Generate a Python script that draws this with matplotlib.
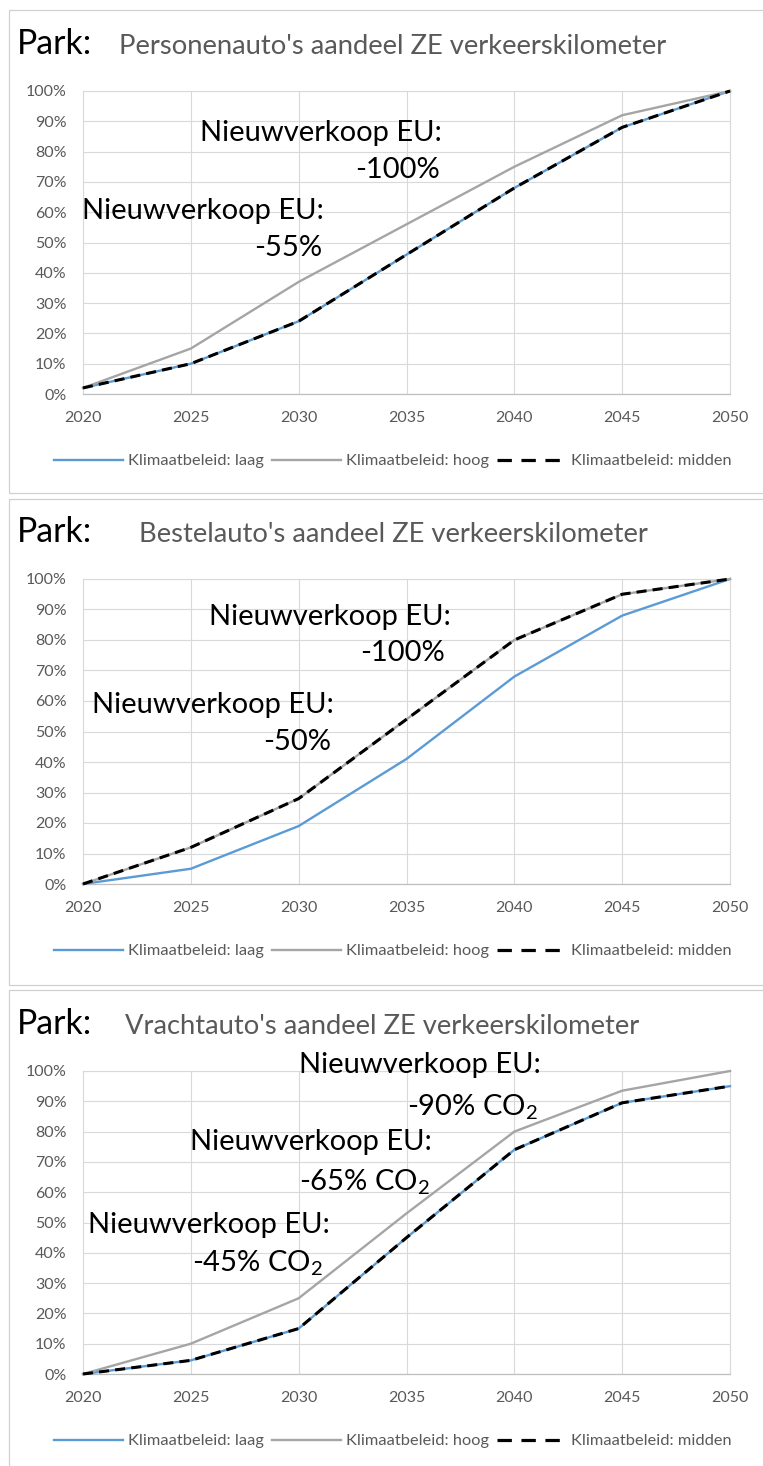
#!/usr/bin/env python
# -*- coding: utf-8 -*-
"""Park: aandeel ZE verkeerskilometer, three stacked panels"""

import matplotlib
matplotlib.use("Agg")
import matplotlib.pyplot as plt
from matplotlib.lines import Line2D

plt.rcParams['font.family'] = ['Lato', 'DejaVu Sans']
plt.rcParams['mathtext.fontset'] = 'custom'
plt.rcParams['mathtext.rm'] = 'Lato'
plt.rcParams['mathtext.it'] = 'Lato:italic'

# data (share of zero-emission vehicle kilometres, %)
years = [2020, 2025, 2030, 2035, 2040, 2045, 2050]

pa_laag = [2, 10, 24, 46, 68, 88, 100]
pa_hoog = [2, 15, 37, 56, 75, 92, 100]
pa_midden = [2, 10, 24, 46, 68, 88, 100]

be_laag = [0, 5, 19, 41, 68, 88, 100]
be_hoog = [0, 12, 28, 54, 80, 95, 100]
be_midden = [0, 12, 28, 54, 80, 95, 100]

vr_laag = [0, 4.5, 15, 45, 74, 89.5, 95]
vr_hoog = [0, 10, 25, 53, 80, 93.5, 100]
vr_midden = [0, 4.5, 15, 45, 74, 89.5, 95]

series_labels = ['Klimaatbeleid: laag', 'Klimaatbeleid: hoog',
                 'Klimaatbeleid: midden']
titles = ["Personenauto's aandeel ZE verkeerskilometer",
          "Bestelauto's aandeel ZE verkeerskilometer",
          "Vrachtauto's aandeel ZE verkeerskilometer"]

W, H = 763, 1466
X0, X1 = 83, 730          # pixel x of 2020 and 2050

BLUE, GREY = '#5b9bd5', '#a5a5a5'


def fx(x):
    return x / W


def fy(y):
    return 1 - y / H


def draw_panel(fig, box, top, bottom, title, title_x, values, notes):
    """box: (top, bottom) of the frame, top/bottom: pixel y of 100% / 0%"""
    # frame around the panel (left, top and bottom edges only)
    ftop, fbot = box
    frame = Line2D([fx(W + 5), fx(9), fx(9), fx(W + 5)],
                   [fy(ftop), fy(ftop), fy(fbot), fy(fbot)],
                   transform=fig.transFigure, color='#d0d0d0', lw=0.9)
    fig.add_artist(frame)

    ax = fig.add_axes([fx(X0), fy(bottom), (X1 - X0) / W, (bottom - top) / H])
    laag, hoog, midden = values
    ax.plot(years, laag, color=BLUE, lw=1.7, clip_on=False, zorder=3)
    ax.plot(years, hoog, color=GREY, lw=1.7, clip_on=False, zorder=3)
    ax.plot(years, midden, color='black', lw=2.2, ls=(0, (3.3, 2.0)),
            clip_on=False, zorder=4)

    ax.set_xlim(2020, 2050)
    ax.set_ylim(0, 100)
    ax.set_xticks(years)
    ax.set_yticks(range(0, 101, 10))
    ax.yaxis.set_major_formatter(lambda v, p: f'{v:.0f}%')
    ax.grid(color='#d9d9d9', lw=0.8)
    ax.set_axisbelow(True)
    for side in ['left', 'right', 'top']:
        ax.spines[side].set_color('#d9d9d9')
        ax.spines[side].set_linewidth(0.8)
    ax.spines['bottom'].set_color('#bfbfbf')
    ax.spines['bottom'].set_linewidth(0.9)
    ax.tick_params(length=0, pad=12, labelsize=11.5, labelcolor='#595959')

    # legend handles: the dashed one has the longer Excel-style dashes
    handles = [Line2D([], [], color=BLUE, lw=1.7),
               Line2D([], [], color=GREY, lw=1.7),
               Line2D([], [], color='black', lw=2.3, ls=(0, (4.5, 3.0)))]
    ax.legend(handles, series_labels, loc='center',
              bbox_to_anchor=(fx(393), fy(bottom + 67)),
              bbox_transform=fig.transFigure, ncol=3, frameon=False,
              fontsize=11.8, handlelength=4.2, handletextpad=0.3,
              columnspacing=0.5, labelcolor='#595959')

    fig.text(fx(17), fy(top - 47), 'Park:', fontsize=24.3, color='black',
             va='center', ha='left')
    fig.text(fx(title_x), fy(top - 44), title, fontsize=19.7,
             color='#595959', va='center', ha='left')

    for left, right, y1, y2, label in notes:
        fig.text(fx(left), fy(y1), 'Nieuwverkoop EU:', fontsize=21,
                 va='center', ha='left')
        fig.text(fx(right), fy(y2), label, fontsize=21,
                 va='center', ha='right')


def main():
    fig = plt.figure(figsize=(W / 100, H / 100), dpi=100)

    draw_panel(fig, (10, 493), 91, 394, titles[0], 119,
               (pa_laag, pa_hoog, pa_midden),
               [(200, 440, 133, 170, '-100%'),
                (82, 322, 211, 248, '-55%')])
    draw_panel(fig, (499, 985), 579, 884, titles[1], 139,
               (be_laag, be_hoog, be_midden),
               [(209, 445, 617, 653, '-100%'),
                (92, 331, 705, 742, '-50%')])
    draw_panel(fig, (990, 1480), 1071, 1374, titles[2], 125,
               (vr_laag, vr_hoog, vr_midden),
               [(299, 538, 1065, 1107, r'-90% CO$_2$'),
                (190, 430, 1142, 1182, r'-65% CO$_2$'),
                (88, 323, 1225, 1263, r'-45% CO$_2$')])

    fig.savefig('out.png', dpi=100)


if __name__ == "__main__":
    main()
